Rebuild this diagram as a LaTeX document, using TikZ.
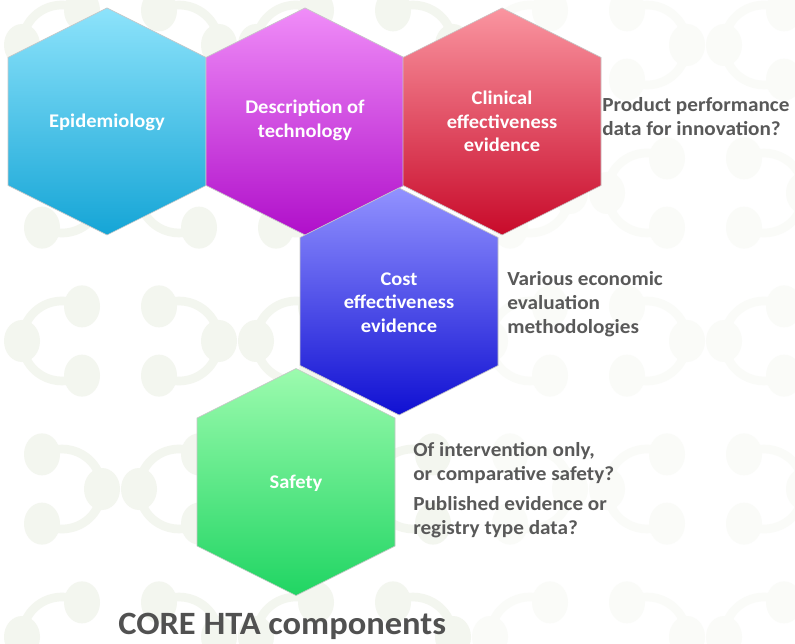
\documentclass[tikz,border=0pt]{standalone}
\usepackage{fontspec}
\setmainfont{Carlito}[FakeStretch=1.06]
\definecolor{bgc}{HTML}{F3F6EF}
\definecolor{sidegray}{HTML}{595959}
\definecolor{titlegray}{HTML}{515151}
\definecolor{epiT}{HTML}{8DE3FB}\definecolor{epiB}{HTML}{15A5D6}
\definecolor{desT}{HTML}{F08DF8}\definecolor{desB}{HTML}{B00FCA}
\definecolor{cliT}{HTML}{FA95A0}\definecolor{cliB}{HTML}{C80A2A}
\definecolor{cosT}{HTML}{9292FF}\definecolor{cosB}{HTML}{1010D2}
\definecolor{safT}{HTML}{9CFBAE}\definecolor{safB}{HTML}{20D563}
\tikzset{
  hexbox/.style={draw=black!22, line width=0.5pt},
  hextext/.style={text=white, font=\bfseries\fontsize{14.5}{17.5}\selectfont, align=center, inner sep=0pt},
  sidetext/.style={text=sidegray, font=\bfseries\fontsize{15}{18}\selectfont, align=left, anchor=west, inner sep=0pt},
  mol/.pic={
    \draw[line width=6.5pt] (60:40) arc (60:300:40);
    \fill (60:40) ellipse (18 and 21);
    \fill (180:40) ellipse (18 and 21);
    \fill (300:40) ellipse (18 and 21);
  }
}
\newcommand\hexshape[3]{\path[hexbox,#3] (#1,#2) ++(0,113.5) -- ++(99,-49.5) -- ++(0,-128) -- ++(-99,-49.5) -- ++(-99,49.5) -- ++(0,128) -- cycle;}
\begin{document}
\begin{tikzpicture}[x=0.75pt,y=0.75pt]
\useasboundingbox (0,0) rectangle (795,643);
\fill[white] (0,0) rectangle (795,643);
% faint background pattern
\begin{scope}
\clip (0,0) rectangle (795,643);
\foreach \i in {0,...,6}{
  \foreach \j in {0,...,4}{
    \pgfmathsetmacro\px{62+117*\i}
    \pgfmathsetmacro\py{643-(45+148*\j)}
    \pgfmathtruncatemacro\rot{mod(\i+\j,2)*180}
    \pgfmathtruncatemacro\op{\i<4 ? 100 : 45}
    \pic[rotate=\rot, color=bgc!\op!white] at (\px,\py) {mol};
  }
}
\end{scope}
% hexagons
\hexshape{107}{521.5}{top color=epiT, bottom color=epiB}
\hexshape{305}{521.5}{top color=desT, bottom color=desB}
\hexshape{502}{521.5}{top color=cliT, bottom color=cliB}
\hexshape{399}{341.5}{top color=cosT, bottom color=cosB}
\hexshape{296}{161}{top color=safT, bottom color=safB}
% hexagon labels
\node[hextext] (epi) at (107,521) {Epidemiology};
\node[hextext] (des) at (305,522.5) {Description of\\technology};
\node[hextext] (cli) at (502,521.5) {Clinical\\effectiveness\\evidence};
\node[hextext] (cos) at (399,340.5) {Cost\\effectiveness\\evidence};
\node[hextext] (saf) at (296,160) {Safety};
% side texts
\node[sidetext] (t1) at (602,526.5) {Product performance\\data for innovation?};
\node[sidetext] (t2) at (507,339) {Various economic\\evaluation\\methodologies};
\node[sidetext] (t3) at (413,153) {Of intervention only,\\or comparative safety?\\[4pt]Published evidence or\\registry type data?};
% title
\node[anchor=base west, inner sep=0pt, text=titlegray, font=\bfseries\fontsize{24.4}{28}\selectfont] (title) at (118,8.5) {CORE HTA components};
\end{tikzpicture}
\end{document}
